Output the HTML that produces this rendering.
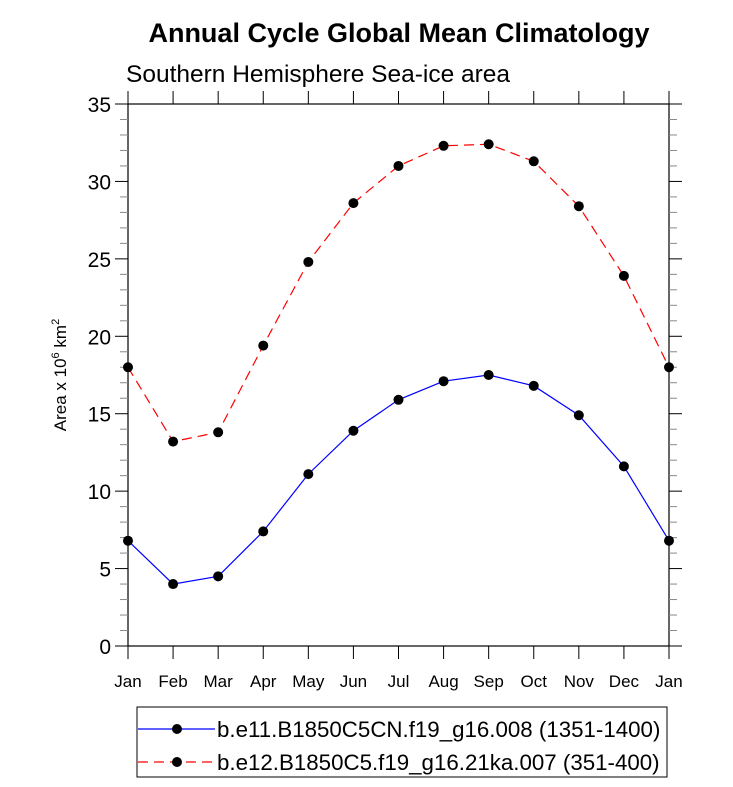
<!DOCTYPE html>
<html><head><meta charset="utf-8"><style>
html,body{margin:0;padding:0;background:#fff;}
svg{display:block;font-family:"Liberation Sans",Arial,sans-serif;}
</style></head><body>
<svg id="chart" width="733" height="787" xmlns="http://www.w3.org/2000/svg">
<text x="399" y="42" text-anchor="middle" font-size="27" font-weight="bold">Annual Cycle Global Mean Climatology</text>
<text x="126" y="82" font-size="24.5">Southern Hemisphere Sea-ice area</text>
<text transform="translate(66,375) rotate(-90)" text-anchor="middle" font-size="17">Area x 10<tspan dy="-7" font-size="11">6</tspan><tspan dy="7"> km</tspan><tspan dy="-7" font-size="11">2</tspan></text>
<g id="axes"></g>
<g id="series"></g>
<rect x="137" y="707" width="530" height="70" fill="none" stroke="#000" stroke-width="1"/>
<g>
<line x1="138" y1="729" x2="215" y2="729" stroke="#0000ff" stroke-width="1.2"/>
<circle cx="177" cy="729" r="5" fill="#000"/>
<text x="217" y="737" font-size="22.3">b.e11.B1850C5CN.f19_g16.008 (1351-1400)</text>
</g>
<g>
<line x1="138" y1="762" x2="215" y2="762" stroke="#ff0000" stroke-width="1.2" stroke-dasharray="10,6"/>
<circle cx="177" cy="762" r="5" fill="#000"/>
<text x="217" y="770" font-size="22.3">b.e12.B1850C5.f19_g16.21ka.007 (351-400)</text>
</g>
</svg>
<script>
const months = ["Jan","Feb","Mar","Apr","May","Jun","Jul","Aug","Sep","Oct","Nov","Dec","Jan"];
const blueValues = [6.8,4.0,4.5,7.4,11.1,13.9,15.9,17.1,17.5,16.8,14.9,11.6,6.8];
const redValues = [18.0,13.2,13.8,19.4,24.8,28.6,31.0,32.3,32.4,31.3,28.4,23.9,18.0];
const yTicks = [0,5,10,15,20,25,30,35];

const NS="http://www.w3.org/2000/svg";
const X0=128,X1=669,Y0=646,Y1=104,YMAX=35;
function xs(i){return X0+(X1-X0)*i/(months.length-1);}
function ys(v){return Y0-(Y0-Y1)*v/YMAX;}
function mk(tag,attrs,parent){const e=document.createElementNS(NS,tag);for(const k in attrs)e.setAttribute(k,attrs[k]);parent.appendChild(e);return e;}
const axes=document.getElementById('axes');
const frame=mk('rect',{x:X0,y:Y1,width:X1-X0,height:Y0-Y1,fill:'none',stroke:'#000','stroke-width':1.2},axes);


for(let v=0;v<=YMAX;v++){
  const major=v%5===0;const len=major?13:8;const y=ys(v);
  mk('line',{x1:X0-len,y1:y,x2:X0,y2:y,stroke:major?'#000':'#888','stroke-width':1},axes);
  mk('line',{x1:X1,y1:y,x2:X1+len,y2:y,stroke:major?'#000':'#888','stroke-width':1},axes);
}
yTicks.forEach(v=>{
  const t=mk('text',{x:X0-17,y:ys(v)+8,'text-anchor':'end','font-size':21},axes);
  t.textContent=v;
  
  
});
months.forEach((m,i)=>{
  const x=xs(i);
  mk('line',{x1:x,y1:Y0,x2:x,y2:Y0+13,stroke:'#000','stroke-width':1},axes);
  mk('line',{x1:x,y1:Y1-13,x2:x,y2:Y1,stroke:'#000','stroke-width':1},axes);
  const t=mk('text',{x:x,y:Y0+41,'text-anchor':'middle','font-size':17},axes);
  t.textContent=m;
  
  
});
const series=document.getElementById('series');
function draw(vals,color,dash,name){
  const g=mk('g',{},series);
  
  
  const pts=vals.map((v,i)=>xs(i)+','+ys(v)).join(' ');
  const pl=mk('polyline',{points:pts,fill:'none',stroke:color,'stroke-width':1.2},g);
  if(dash)pl.setAttribute('stroke-dasharray',dash);
  
  
  vals.forEach((v,i)=>{
    const c=mk('circle',{cx:xs(i),cy:ys(v),r:5,fill:'#000'},g);
    
    
  });
}
draw(blueValues,'#0000ff',null,'series-b-e11');
draw(redValues,'#ff0000','10,6','series-b-e12');
</script>
</body></html>
